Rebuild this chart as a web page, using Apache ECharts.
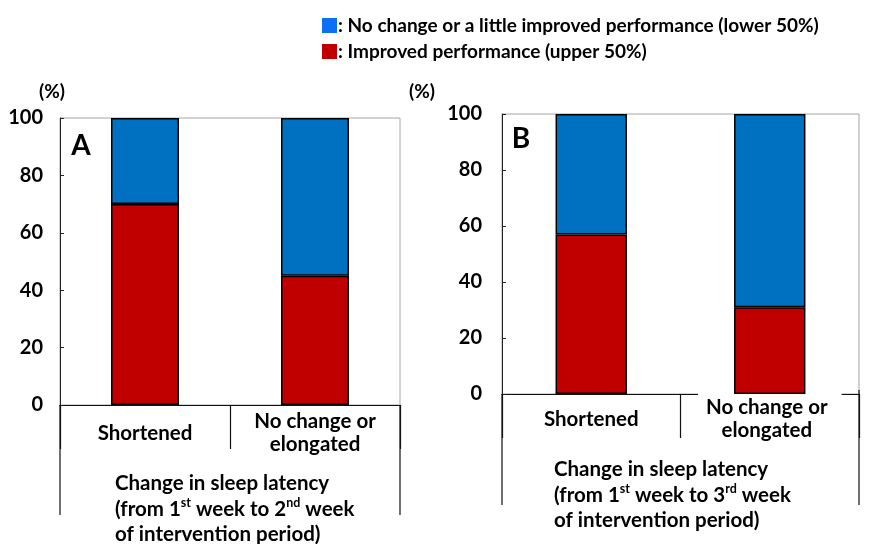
<!DOCTYPE html>
<html>
<head>
<meta charset="utf-8">
<script src="https://cdn.jsdelivr.net/npm/echarts@6/dist/echarts.min.js"></script>
<style>
  html, body { margin: 0; padding: 0; background: #fff; }
  #chart { width: 872px; height: 544px; }
</style>
</head>
<body>
<div id="chart"></div>
<script>
// Share of participants by change in sleep latency (%)
var categories = ['Shortened', 'No change or\nelongated'];
var seriesNames = [
  ': No change or a little improved performance (lower 50%)',
  ': Improved performance (upper 50%)'
];
// Panel A: 1st week -> 2nd week
var improvedA = [70, 45];
var littleA = [30, 55];
// Panel B: 1st week -> 3rd week
var improvedB = [57, 31];
var littleB = [43, 69];
var yTicks = [0, 20, 40, 60, 80, 100];

var FONT = 'Lato, "Open Sans", sans-serif';
var RED = '#c00000';
var BLUE = '#0070c0';
var CAT_SIZE = 20.5;

var gridA = { left: 60, top: 118, width: 340, height: 287 };
var gridB = { left: 502, top: 114, width: 357, height: 280 };

function yAxis(gridIndex, margin) {
  return {
    type: 'value', gridIndex: gridIndex, min: yTicks[0], max: yTicks[yTicks.length - 1], interval: 20,
    axisLine: { show: true, lineStyle: { color: '#222', width: 1 } },
    axisTick: { show: true, inside: true, length: 4, lineStyle: { color: '#222' } },
    splitLine: { show: false },
    axisLabel: { margin: margin, color: '#000', fontFamily: FONT, fontWeight: 'bold', fontSize: 20 }
  };
}

var catLabelStyle = {
  verticalAlign: 'middle', color: '#000',
  fontFamily: FONT, fontWeight: 'bold', fontSize: CAT_SIZE, lineHeight: 23
};

function xAxis(gridIndex, labelMargin, data) {
  return {
    type: 'category', gridIndex: gridIndex, data: data,
    axisLine: { show: true, lineStyle: { color: '#111', width: 1.2 } },
    axisTick: { show: true, inside: false, length: 44, interval: 0, lineStyle: { color: '#111', width: 1.2 } },
    axisLabel: Object.assign({ interval: 0, margin: labelMargin }, catLabelStyle)
  };
}

function bars(name, data, color, xi, yi) {
  return {
    name: name, type: 'bar', stack: 'p' + xi, xAxisIndex: xi, yAxisIndex: yi,
    data: data, barWidth: '40%',
    itemStyle: { color: color, borderColor: '#000', borderWidth: 1.5 }
  };
}

function txt(x, y, text, size, align, vAlign, rich) {
  return {
    type: 'text', x: x, y: y, silent: true,
    style: {
      text: text, fill: '#000', font: 'bold ' + size + 'px ' + FONT,
      align: align, verticalAlign: vAlign, rich: rich
    }
  };
}

function vline(x, y1, y2) {
  return { type: 'line', silent: true, shape: { x1: x, y1: y1, x2: x, y2: y2 }, style: { stroke: '#111', lineWidth: 1.2 } };
}

var nameRich = {
  n: { fontFamily: FONT, fontWeight: 'bold', fontSize: 20.5, lineHeight: 25.5, fill: '#000' },
  s: { fontFamily: FONT, fontWeight: 'bold', fontSize: 12.5, lineHeight: 12, verticalAlign: 'top', fill: '#000' }
};

// the second label in panel B sits on a white box that breaks the axis line
var catsB = [
  categories[0],
  { value: categories[1], textStyle: Object.assign({ backgroundColor: '#fff', padding: [8, 14, 2, 8] }, catLabelStyle) }
];

var chart = echarts.init(document.getElementById('chart'), null, { renderer: 'canvas' });
chart.setOption({
  animation: false,
  backgroundColor: '#fff',
  legend: {
    orient: 'vertical', left: 317, top: 11, itemWidth: 15, itemHeight: 15, itemGap: 7,
    icon: 'rect', selectedMode: false,
    textStyle: { color: '#000', fontFamily: FONT, fontWeight: 'bold', fontSize: 19, lineHeight: 16, padding: [0, 0, 0, -4] },
    data: [
      { name: seriesNames[0], itemStyle: { color: '#0a72f2', borderWidth: 0 } },
      { name: seriesNames[1], itemStyle: { color: RED, borderWidth: 0 } }
    ]
  },
  grid: [
    Object.assign({ show: true, borderColor: '#a6a6a6', borderWidth: 1 }, gridA),
    Object.assign({ show: true, borderColor: '#a6a6a6', borderWidth: 1 }, gridB)
  ],
  xAxis: [xAxis(0, 28, categories), xAxis(1, 25, catsB)],
  yAxis: [yAxis(0, 17), yAxis(1, 20)],
  series: [
    bars(seriesNames[1], improvedA, RED, 0, 0),
    bars(seriesNames[0], littleA, BLUE, 0, 0),
    bars(seriesNames[1], improvedB, RED, 1, 1),
    bars(seriesNames[0], littleB, BLUE, 1, 1)
  ],
  graphic: [
    txt(52, 92, '(%)', 19, 'center', 'middle'),
    txt(422, 92, '(%)', 19, 'center', 'middle'),
    txt(81, 146, 'A', 28, 'center', 'middle'),
    txt(521, 139, 'B', 28, 'center', 'middle'),
    txt(115, 471, '{n|Change in sleep latency}\n{n|(from 1}{s|st}{n| week to 2}{s|nd}{n| week}\n{n|of intervention period)}', 20.5, 'left', 'top', nameRich),
    txt(554, 457, '{n|Change in sleep latency}\n{n|(from 1}{s|st}{n| week to 3}{s|rd}{n| week}\n{n|of intervention period)}', 20.5, 'left', 'top', nameRich),
    vline(60, 405, 515),
    vline(400, 405, 515),
    vline(502, 394, 505),
    vline(859, 390, 505)
  ]
});
</script>
</body>
</html>
